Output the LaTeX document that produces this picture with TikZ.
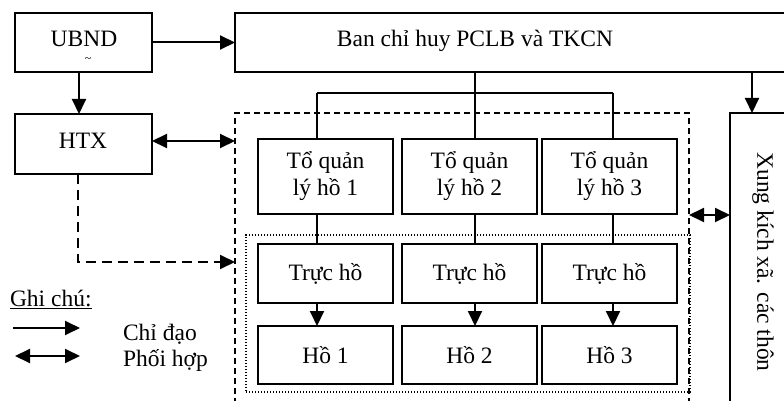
\documentclass[tikz,border=0pt]{standalone}
\usepackage{fontspec}
\setmainfont{Liberation Serif}
\usetikzlibrary{arrows.meta}
\begin{document}
\begin{tikzpicture}[x=1pt,y=-1pt,
  every node/.style={font=\fontsize{23.5}{27}\selectfont, inner sep=0pt, outer sep=0pt},
  box/.style={draw, line width=1.8pt, align=center},
  sz/.style 2 args={minimum width=#1, minimum height=#2},
  link/.style={line width=2pt},
  tip/.tip={Triangle[length=15pt,width=14pt]},
  arr/.style={link, -tip},
  biarr/.style={link, tip-tip},
  grpdash/.style={draw, line width=1.3pt, dash pattern=on 6pt off 4pt},
  grpdot/.style={draw, line width=1.1pt, dash pattern=on 1.1pt off 1.9pt},
  coordline/.style={line width=2pt, dash pattern=on 10pt off 6pt, -tip},
]
\path[use as bounding box, clip] (0,0) rectangle (784,401);

% group frames
\node[grpdash, sz={454pt}{307pt}] (dashgrp) at (462,266.5) {};
\node[grpdot, sz={444pt}{157pt}] (dotgrp) at (468,313.5) {};

% top level
\node[box, sz={137pt}{59pt}] (ubnd) at (83.5,42.5) {};
\node[anchor=base] (ubndtext) at (84,47) {UBND};
\node[font=\fontsize{12}{12}\selectfont] (ubndtilde) at (88,60) {\textasciitilde};
\node[box, sz={565pt}{59pt}] (ban) at (517.5,42.5) {};
\node[anchor=base] (bantext) at (475,47) {Ban chỉ huy PCLB và TKCN};
\node[box, sz={137pt}{60pt}] (htx) at (83.5,144) {};
\node[anchor=base] (htxtext) at (83,148) {HTX};
\node[box, sz={90pt}{298pt}] (xung) at (775,262) {};
\node[rotate=-90] (xungtext) at (763,262) {Xung kích xã. các thôn};

% three columns
\foreach \i/\x in {1/325.5, 2/469.5, 3/609.5} {
  \node[box, sz={135pt}{75pt}] (to\i) at (\x,176.5) {Tổ quản\\lý hồ \i};
  \node[box, sz={135pt}{59pt}] (truc\i) at (\x,273.5) {Trực hồ};
  \node[box, sz={135pt}{58pt}] (ho\i) at (\x,355) {Hồ \i};
}

% bus from the command board
\coordinate (c1) at (317,93);
\coordinate (c2) at (475,93);
\coordinate (c3) at (613,93);
\draw[link] (ban.south -| c2) -- (c2);
\draw[link] (c1) -- (c3);
\foreach \i in {1,2,3} {
  \draw[link] (c\i) -- (c\i |- to\i.north);
  \draw[link] (c\i |- to\i.south) -- (c\i |- truc\i.north);
  \draw[arr] (c\i |- truc\i.south) -- (c\i |- ho\i.north);
}

% other connectors
\draw[arr] (ubnd.east) -- (ubnd.east -| ban.west);
\draw[arr] ([xshift=-4.5pt]ubnd.south) -- ([xshift=-4.5pt]htx.north);
\draw[biarr] ([yshift=3pt]htx.east) -- ([yshift=3pt]htx.east -| dashgrp.west);
\coordinate (dashin) at (235,262);
\draw[coordline] ([xshift=-5.5pt]htx.south) |- (dashgrp.west |- dashin);
\coordinate (xin) at (752,0);
\draw[arr] (ban.south -| xin) -- (xung.north -| xin);
\coordinate (xy) at (0,215);
\draw[biarr] (dashgrp.east |- xy) -- (xung.west |- xy);

% legend
\node[anchor=base west] (note) at (10,306) {\underline{Ghi chú:}};
\coordinate (la1) at (13,328);
\coordinate (la2) at (80,328);
\draw[arr] (la1) -- (la2);
\coordinate (lb1) at (15,356);
\coordinate (lb2) at (80,356);
\draw[biarr] (lb1) -- (lb2);
\node[anchor=base west] (lchi) at (123,340) {Chỉ đạo};
\node[anchor=base west] (lphoi) at (123,366) {Phối hợp};
\end{tikzpicture}
\end{document}
